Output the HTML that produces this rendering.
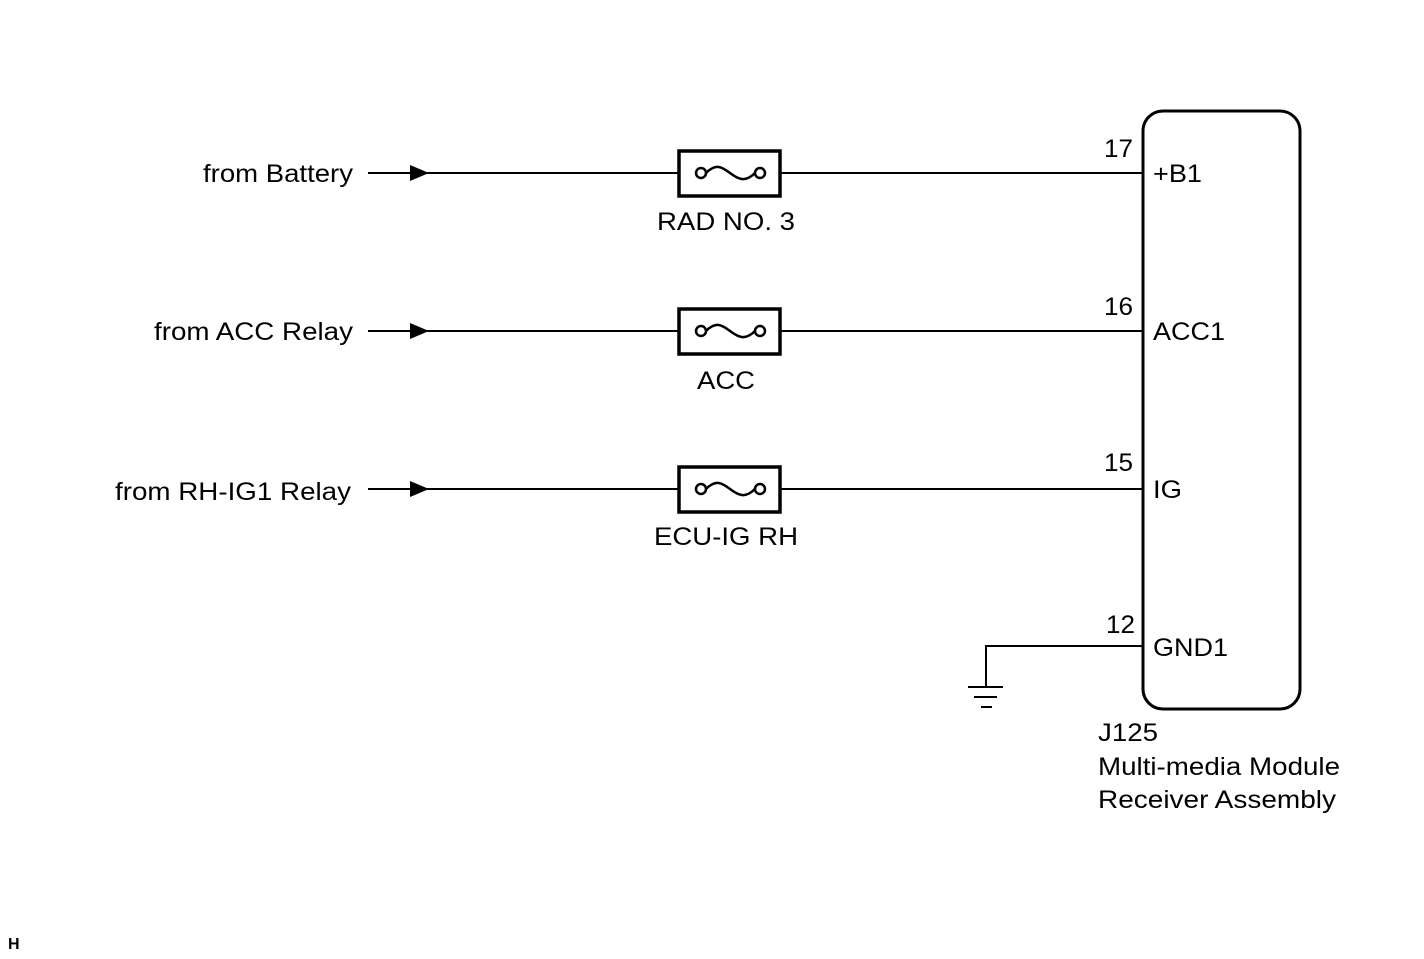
<!DOCTYPE html>
<html><head><style>body{margin:0;background:#fff}svg{display:block}text{font-family:"Liberation Sans",Arial,sans-serif;font-size:25px;fill:#000}</style></head><body>
<svg width="1424" height="959" viewBox="0 0 1424 959">
<defs>
<g id="fuse">
<rect x="679" y="-22" width="101" height="45" fill="#fff" stroke="#000" stroke-width="3.5"/>
<circle cx="701" cy="0" r="5" fill="#fff" stroke="#000" stroke-width="2.5"/>
<circle cx="760" cy="0" r="5" fill="#fff" stroke="#000" stroke-width="2.5"/>
<path d="M706 0 C716 -10 722 -6 730 0 C738 6 745 10 755 0" fill="none" stroke="#000" stroke-width="2.5"/>
<line x1="368" y1="0" x2="679" y2="0" stroke="#000" stroke-width="2"/>
<line x1="780" y1="0" x2="1143" y2="0" stroke="#000" stroke-width="2"/>
<polygon points="410,-8 429,0 410,8" fill="#000"/>
</g>
</defs>
<use href="#fuse" y="173"/>
<use href="#fuse" y="331"/>
<use href="#fuse" y="489"/>
<g lengthAdjust="spacingAndGlyphs">
<text x="203" y="182" textLength="150" lengthAdjust="spacingAndGlyphs">from Battery</text>
<text x="154" y="340" textLength="199" lengthAdjust="spacingAndGlyphs">from ACC Relay</text>
<text x="115" y="500" textLength="236" lengthAdjust="spacingAndGlyphs">from RH-IG1 Relay</text>
<text x="657" y="230" textLength="138" lengthAdjust="spacingAndGlyphs">RAD NO. 3</text>
<text x="697" y="389" textLength="58" lengthAdjust="spacingAndGlyphs">ACC</text>
<text x="654" y="545" textLength="144" lengthAdjust="spacingAndGlyphs">ECU-IG RH</text>
<text x="1104" y="157" textLength="29" lengthAdjust="spacingAndGlyphs">17</text>
<text x="1104" y="315" textLength="29" lengthAdjust="spacingAndGlyphs">16</text>
<text x="1104" y="471" textLength="29" lengthAdjust="spacingAndGlyphs">15</text>
<text x="1106" y="633" textLength="29" lengthAdjust="spacingAndGlyphs">12</text>
<text x="1153" y="182" textLength="49" lengthAdjust="spacingAndGlyphs">+B1</text>
<text x="1153" y="340" textLength="72" lengthAdjust="spacingAndGlyphs">ACC1</text>
<text x="1153" y="498" textLength="29" lengthAdjust="spacingAndGlyphs">IG</text>
<text x="1153" y="656" textLength="75" lengthAdjust="spacingAndGlyphs">GND1</text>
<text x="1098" y="741" textLength="60" lengthAdjust="spacingAndGlyphs">J125</text>
<text x="1098" y="775" textLength="242" lengthAdjust="spacingAndGlyphs">Multi-media Module</text>
<text x="1098" y="808" textLength="238" lengthAdjust="spacingAndGlyphs">Receiver Assembly</text>
</g>
<rect x="1143" y="111" width="157" height="598" rx="20" fill="none" stroke="#000" stroke-width="3"/>
<path d="M1143 646 H986 V687" fill="none" stroke="#000" stroke-width="2"/>
<line x1="968" y1="687" x2="1003" y2="687" stroke="#000" stroke-width="2"/>
<line x1="974" y1="697" x2="997" y2="697" stroke="#000" stroke-width="2"/>
<line x1="981" y1="707" x2="992" y2="707" stroke="#000" stroke-width="2"/>
<text x="8" y="949" style="font-size:16px;font-weight:bold">H</text>
</svg>
</body></html>
